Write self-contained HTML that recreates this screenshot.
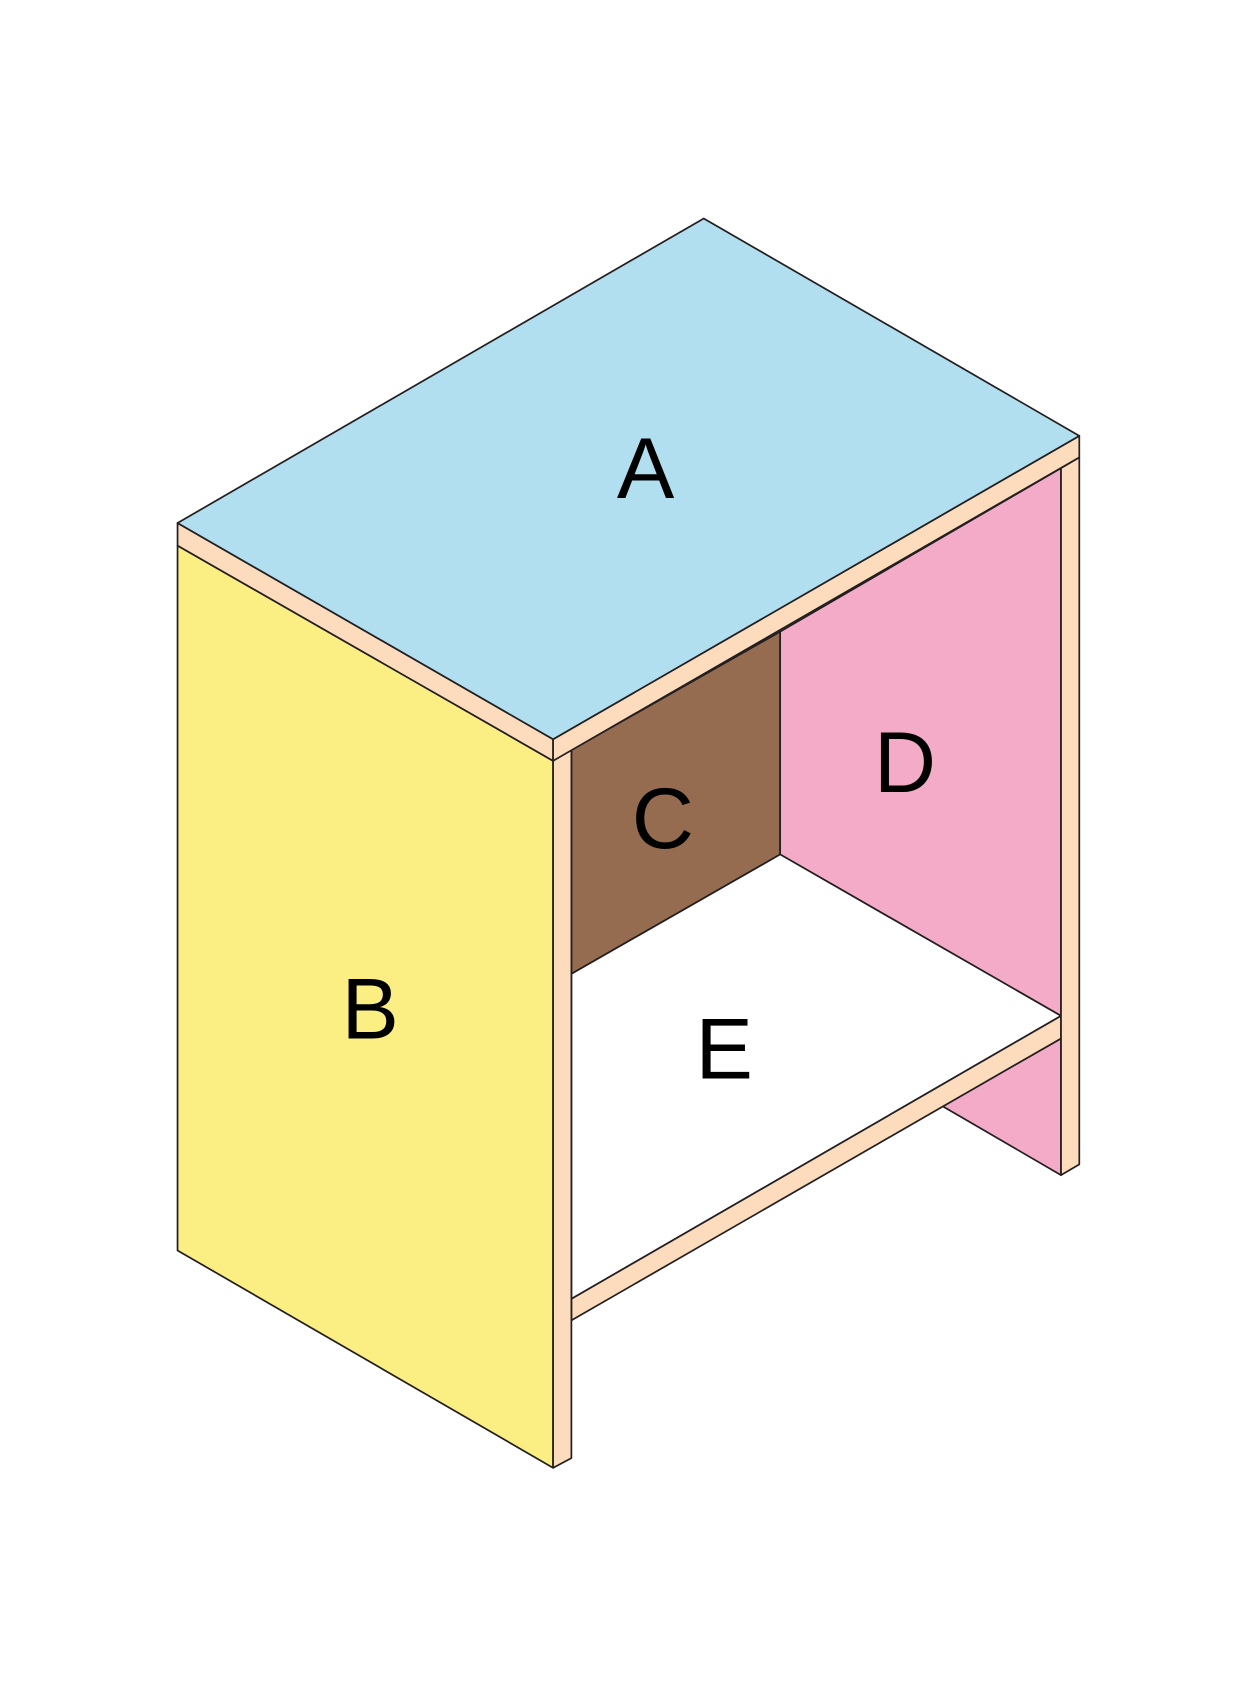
<!DOCTYPE html>
<html><head><style>html,body{margin:0;padding:0;background:#fff;}svg{display:block;}</style></head>
<body>
<svg width="1259" height="1688" viewBox="0 0 1170 1568.6" preserveAspectRatio="none" xmlns="http://www.w3.org/2000/svg">
<g stroke="#231f20" stroke-width="1.6" stroke-linejoin="round">
<polygon points="531,697 725,587 725,794 531,905" fill="#966c50"/>
<polygon points="725,587 986,435 986,944 725,794" fill="#f3abc8"/>
<polygon points="531,905 725,794 986,944 531,1207" fill="#fff"/>
<polygon points="876,1028 986,965 986,1092" fill="#f3abc8"/>
<polygon points="531,1207 986,944 986,965 531,1227" fill="#fddcbd"/>
<polygon points="986,435 1003,425 1003,1082 986,1092" fill="#fddcbd"/>
<polygon points="165,507 514,707 514,1364 165,1162" fill="#fbef84"/>
<polygon points="514,707 531,697 531,1355 514,1364" fill="#fddcbd"/>
<polygon points="165,486 514,687 514,707 165,507" fill="#fddcbd"/>
<polygon points="514,687 1003,405 1003,425 514,707" fill="#fddcbd"/>
<polygon points="654,203 1003,405 514,687 165,486" fill="#b1dff0"/>
</g>
<g font-family="Liberation Sans, sans-serif" font-size="80" fill="#000" text-anchor="middle">
<text x="600" y="463">A</text>
<text x="344" y="965">B</text>
<text x="616" y="788">C</text>
<text x="841" y="736">D</text>
<text x="673" y="1002">E</text>
</g>
</svg>
</body></html>
